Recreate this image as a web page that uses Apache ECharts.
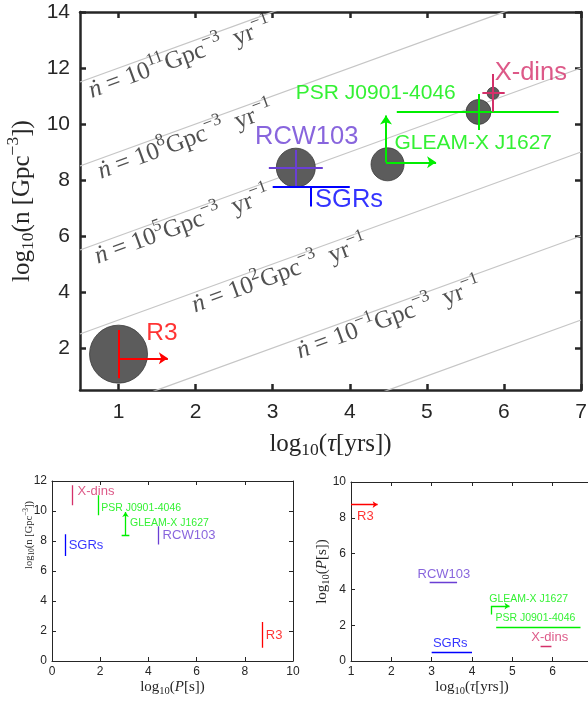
<!DOCTYPE html>
<html>
<head>
<meta charset="UTF-8">
<title>birth rate vs age</title>
<script type="text/javascript" src="https://cdn.jsdelivr.net/npm/echarts@6/dist/echarts.min.js"></script>
<style>html, body { margin: 0; padding: 0; background: #fff; }</style>
</head>
<body>
	<div id="box" style="width: 588px; height: 702px;"></div>

	<script type="text/javascript">
		// objects, same order in every array below
		var names = ['R3', 'RCW103', 'SGRs', 'GLEAM-X J1627', 'PSR J0901-4046', 'X-dins'];

		// ---- top panel: log10(tau [yrs]) vs log10(n [Gpc^-3]) ----
		// horizontal bar (tau range) drawn at log10 n = tauBarN
		var tauFrom = [1.0, 2.95, 3.0, 4.47, 4.61, 5.72];
		var tauTo = [1.64, 3.65, 4.0, 5.12, 6.71, 6.01];
		var tauBarN = [1.63, 8.44, 7.76, 8.63, 10.44, 11.10];
		var tauIsLimit = [true, false, false, true, false, false];
		// vertical bar (n range) drawn at log10 tau = nBarTau
		var nFrom = [0.92, 7.76, 7.05, 8.63, 9.79, 10.44];
		var nTo = [2.64, 9.07, 7.76, 10.30, 11.07, 11.79];
		var nBarTau = [1.0, 3.30, 3.50, 4.47, 5.67, 5.86];
		var nIsLimit = [false, false, false, true, false, false];
		// grey bubbles (SGRs has none)
		var bubbleTau = [1.0, 3.30, null, 4.49, 5.67, 5.86];
		var bubbleN = [1.78, 8.44, null, 8.56, 10.43, 11.10];
		// lines of constant birth rate, log10(ndot [Gpc^-3 yr^-1])
		var rateExp = [11, 8, 5, 2, -1, -4];
		var rateLabelTau = [1.80, 1.87, 1.83, 3.09, 4.51, null];
		// where the names sit (left end of text)
		var mainLabelTau = [1.36, 2.77, 3.55, 4.58, 3.30, 5.88];
		var mainLabelN = [2.52, 9.55, 7.30, 9.31, 11.11, 11.83];
		var mainTauTicks = [1, 2, 3, 4, 5, 6, 7];
		var mainNTicks = [2, 4, 6, 8, 10, 12, 14];

		// ---- bottom left: log10(P [s]) vs log10(n) ----
		var pLeft = [8.73, 4.41, 0.55, 3.05, 1.90, 0.83];
		var nLeftFrom = [0.89, 7.76, 7.0, 8.37, 9.71, 10.38];
		var nLeftTo = [2.6, 8.98, 8.45, 9.93, 11.05, 11.71];
		var leftLabelP = [8.87, 4.59, 0.69, 3.24, 2.04, 1.06];
		var leftLabelN = [1.71, 8.38, 7.71, 9.22, 10.22, 11.31];
		var leftPTicks = [0, 2, 4, 6, 8, 10];
		var leftNTicks = [0, 2, 4, 6, 8, 10, 12];

		// ---- bottom right: log10(tau) vs log10(P) ----
		var pRight = [8.74, 4.41, 0.5, 3.07, 1.9, 0.82];
		var tauRightFrom = [1.0, 2.95, 3.0, 4.47, 4.60, 5.70];
		var tauRightTo = [1.66, 3.63, 4.0, 4.93, 6.69, 5.97];
		var rightLabelTau = [1.15, 2.65, 3.03, 4.43, 4.58, 5.47];
		var rightLabelP = [8.1, 4.83, 0.97, 3.45, 2.37, 1.34];
		var rightTauTicks = [1, 2, 3, 4, 5, 6, 7];
		var rightPTicks = [0, 2, 4, 6, 8, 10];

		// styles
		var colors = ['#ff0000', '#6a3fd4', '#0000ff', '#00ee00', '#00ee00', '#d4306a'];
		var bubblePx = [58, 39, 0, 33, 25, 12];
		var bigFont = [24.5, 25.5, 25.5, 21, 21, 25.5];
		var smallFont = [13, 13, 13, 10.5, 10.5, 13];
		var frame = '#262626';
		var sans = 'Liberation Sans, Arial, sans-serif';
		var serif = 'Liberation Serif, Times New Roman, serif';

		function mathRich(size) {
			return {
				t: { fontFamily: serif, fontSize: size, color: frame, lineHeight: size * 1.4 },
				i: { fontFamily: serif, fontSize: size, fontStyle: 'italic', color: frame, lineHeight: size * 1.4 },
				sub: { fontFamily: serif, fontSize: size * 0.7, color: frame, lineHeight: size * 1.4, padding: [size * 0.45, 0, 0, 0] },
				sup: { fontFamily: serif, fontSize: size * 0.7, color: frame, lineHeight: size * 1.4, padding: [0, 0, size * 0.7, 0] }
			};
		}

		function axisPair(grid, dim, min, max, ticks, lw, tickLen, fontSize, margin, name, nameGap, nameSize, namePad) {
			var base = {
				gridIndex: grid, type: 'value', min: min, max: max,
				axisLine: { show: true, onZero: false, lineStyle: { color: frame, width: lw } },
				axisTick: { show: true, inside: true, length: tickLen, customValues: ticks, lineStyle: { color: frame, width: lw } },
				splitLine: { show: false }
			};
			var a = echarts.util.merge({
				position: dim === 'x' ? 'bottom' : 'left',
				axisLabel: { show: true, customValues: ticks, fontSize: fontSize, margin: margin, color: frame, fontFamily: sans },
				name: name, nameLocation: 'middle', nameGap: nameGap, nameMoveOverlap: false,
				nameTextStyle: { rich: mathRich(nameSize), padding: namePad || 0 }
			}, base, true);
			var b = echarts.util.merge({
				position: dim === 'x' ? 'top' : 'right',
				axisLabel: { show: false }
			}, echarts.util.clone(base), true);
			return [a, b];
		}

		var tx = axisPair(0, 'x', 0.5, 7, mainTauTicks, 2.5, 6, 21, 12, '{t|log}{sub|10}{t|(}{i|τ}{t|[yrs])}', 37, 25);
		var ty = axisPair(0, 'y', 0.5, 14, mainNTicks, 2.5, 6, 21, 10, '{t|log}{sub|10}{t|(n [Gpc}{sup|−3}{t|])}', 40, 25);
		var lx = axisPair(1, 'x', 0, 10, leftPTicks, 1, 4, 12, 5, '{t|log}{sub|10}{t|(}{i|P}{t|[s])}', 16, 15);
		var ly = axisPair(1, 'y', 0, 12, leftNTicks, 1, 4, 12, 5, '{t|log}{sub|10}{t|(n [Gpc}{sup|−3}{t|])}', 15, 10.5, [0, 0, 0, 72]);
		var rx = axisPair(2, 'x', 1, 7, rightTauTicks, 1, 4, 12, 5, '{t|log}{sub|10}{t|(}{i|τ}{t|[yrs])}', 16, 15);
		var ry = axisPair(2, 'y', 0, 10, rightPTicks, 1, 4, 12, 5, '{t|log}{sub|10}{t|(}{i|P}{t|[s])}', 18, 15);

		var series = [];

		// constant-rate lines and their labels
		rateExp.forEach(function (e) {
			series.push({
				type: 'line', xAxisIndex: 0, yAxisIndex: 0, silent: true, clip: true, z: 1,
				showSymbol: false, symbol: 'none',
				lineStyle: { color: '#c6c6c6', width: 1.3 },
				data: [[0.5, e + 0.5], [7, e + 7]]
			});
		});
		var rateLabels = [];
		rateExp.forEach(function (e, i) {
			if (rateLabelTau[i] == null) return;
			rateLabels.push({ value: [rateLabelTau[i], e + rateLabelTau[i] - 0.47], exp: e });
		});
		series.push({
			type: 'scatter', xAxisIndex: 0, yAxisIndex: 0, silent: true, symbolSize: 0, z: 2,
			data: rateLabels,
			label: {
				show: true, position: 'inside', rotate: 20,
				formatter: function (p) {
					var e = p.data.exp;
					var s = e < 0 ? '−' + (-e) : '' + e;
					return '{i|ṅ}{t| = 10}{sup|' + s + '}{t|Gpc}{sup|−3}{t|  yr}{sup|−1}';
				},
				rich: mathRich(25)
			}
		});

		// bubbles
		var bubbles = [];
		names.forEach(function (nm, i) {
			if (bubbleTau[i] == null) return;
			bubbles.push({ value: [bubbleTau[i], bubbleN[i]], symbolSize: bubblePx[i] });
		});
		series.push({
			type: 'scatter', xAxisIndex: 0, yAxisIndex: 0, silent: true, z: 3,
			itemStyle: { color: '#5c5c5c', borderColor: '#3a3a3a', borderWidth: 0.8, opacity: 1 },
			data: bubbles
		});

		function seg(axis, x1, y1, x2, y2, color, width, arrow, head) {
			return {
				type: 'lines', coordinateSystem: 'cartesian2d', xAxisIndex: axis, yAxisIndex: axis,
				silent: true, polyline: false, z: 5,
				symbol: arrow ? ['none', 'arrow'] : ['none', 'none'], symbolSize: head,
				lineStyle: { color: color, width: width, opacity: 1 },
				data: [{ coords: [[x1, y1], [x2, y2]] }]
			};
		}

		function nameLabels(axis, xs, ys, fonts) {
			return {
				type: 'scatter', xAxisIndex: axis, yAxisIndex: axis, silent: true, symbolSize: 0, z: 6,
				data: names.map(function (nm, i) {
					return {
						value: [xs[i], ys[i]], name: nm,
						label: { color: colors[i], fontSize: fonts[i] }
					};
				}),
				label: { show: true, position: [0, 0], align: 'left', verticalAlign: 'middle', fontFamily: sans, formatter: '{b}' }
			};
		}

		// top panel bars
		names.forEach(function (nm, i) {
			series.push(seg(0, tauFrom[i], tauBarN[i], tauTo[i], tauBarN[i], colors[i], 2, tauIsLimit[i], 9));
			series.push(seg(0, nBarTau[i], nFrom[i], nBarTau[i], nTo[i], colors[i], 2, nIsLimit[i], 9));
		});
		series.push(nameLabels(0, mainLabelTau, mainLabelN, bigFont));

		// bottom left: vertical bars in n at each period
		names.forEach(function (nm, i) {
			var up = names[i] === 'GLEAM-X J1627';
			series.push(seg(1, pLeft[i], nLeftFrom[i], pLeft[i], nLeftTo[i], colors[i], 1.3, up, 5));
			if (up) series.push(seg(1, pLeft[i] - 0.16, nLeftFrom[i], pLeft[i] + 0.16, nLeftFrom[i], colors[i], 1.3, false, 0));
		});
		series.push(nameLabels(1, leftLabelP, leftLabelN, smallFont));

		// bottom right: horizontal bars in tau at each period
		names.forEach(function (nm, i) {
			var lim = tauIsLimit[i];
			series.push(seg(2, tauRightFrom[i], pRight[i], tauRightTo[i], pRight[i], colors[i], 1.3, lim, 5));
			if (names[i] === 'GLEAM-X J1627') series.push(seg(2, tauRightFrom[i], pRight[i], tauRightFrom[i], pRight[i] - 0.47, colors[i], 1.3, false, 0));
		});
		series.push(nameLabels(2, rightLabelTau, rightLabelP, smallFont));

		var myChart = echarts.init(document.getElementById('box'));
		myChart.setOption({
			animation: false,
			backgroundColor: '#fff',
			grid: [
				{ left: 80, top: 12, width: 501, height: 378, outerBoundsMode: 'none', containLabel: false },
				{ left: 52, top: 481, width: 241, height: 180, outerBoundsMode: 'none', containLabel: false },
				{ left: 351, top: 482, width: 242, height: 179, outerBoundsMode: 'none', containLabel: false }
			],
			xAxis: [tx[0], tx[1], lx[0], lx[1], rx[0], rx[1]],
			yAxis: [ty[0], ty[1], ly[0], ly[1], ry[0], ry[1]],
			series: series.map(function (s) {
				// grid number -> index of its bottom/left axis
				var g = s.xAxisIndex;
				s.xAxisIndex = g * 2;
				s.yAxisIndex = g * 2;
				return s;
			})
		});
	</script>

</body>
</html>
